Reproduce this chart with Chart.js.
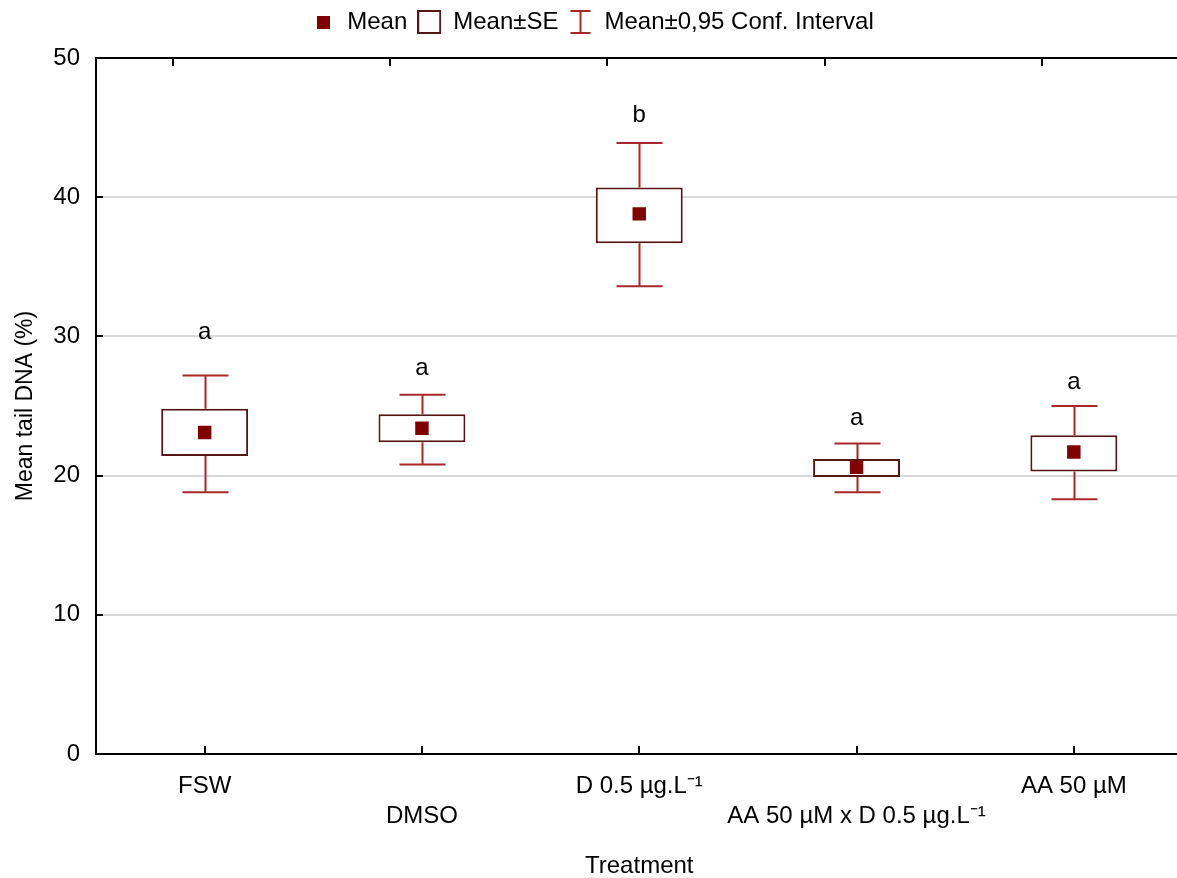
<!DOCTYPE html>
<html>
<head>
<meta charset="utf-8">
<script src="https://cdn.jsdelivr.net/npm/chart.js@4.4.1/dist/chart.umd.min.js"></script>
<style>
  html, body { margin: 0; padding: 0; background: #fff; overflow: hidden; }
  #wrap { width: 1192px; height: 878px; }
</style>
</head>
<body>
<div id="wrap"><canvas id="myChart" width="1192" height="878"></canvas></div>
<script>
// values
const treatments = ['FSW', 'DMSO', 'D 0.5 µg.L⁻¹', 'AA 50 µM x D 0.5 µg.L⁻¹', 'AA 50 µM'];
const means  = [23.1, 23.4, 38.8, 20.6, 21.7];
const seLow  = [21.4, 22.4, 36.7, 19.9, 20.3];
const seHigh = [24.8, 24.4, 40.7, 21.2, 22.9];
const ciLow  = [18.8, 20.8, 33.6, 18.8, 18.3];
const ciHigh = [27.2, 25.8, 43.9, 22.3, 25.0];
const letters = ['a', 'a', 'b', 'a', 'a'];
const letterY = [30.3, 27.7, 45.9, 24.1, 26.7];
const yTicks = [0, 10, 20, 30, 40, 50];

const FONT = "'Liberation Sans', Arial, sans-serif";
const FS = 24;
const boxColor = '#561616';
const ciColor = '#a8282a';
const meanColor = '#800000';

// little legend glyphs
function glyph(w, h, draw) {
  const c = document.createElement('canvas');
  c.width = w; c.height = h;
  draw(c.getContext('2d'));
  return c;
}
const meanGlyph = glyph(13, 13, g => { g.fillStyle = meanColor; g.fillRect(0, 0, 13, 13); });
const seGlyph = glyph(24, 24, g => { g.strokeStyle = boxColor; g.lineWidth = 2; g.strokeRect(1, 1, 22, 22); });
const ciGlyph = glyph(24, 24, g => {
  g.strokeStyle = ciColor; g.lineWidth = 2;
  g.beginPath();
  g.moveTo(2, 1); g.lineTo(22, 1);
  g.moveTo(12, 1); g.lineTo(12, 23);
  g.moveTo(2, 23); g.lineTo(22, 23);
  g.stroke();
});

// push the plot down a bit under the legend
const legendGap = {
  id: 'legendGap',
  beforeInit(chart) {
    const fit = chart.legend.fit;
    chart.legend.fit = function () {
      fit.bind(chart.legend)();
      this.height += 14;
    };
  }
};

const boxPlot = {
  id: 'boxPlot',
  afterDatasetsDraw(chart) {
    const { ctx, scales: { x, y } } = chart;
    const cap = 23;
    ctx.save();
    ctx.strokeStyle = ciColor;
    ctx.lineWidth = 2;
    treatments.forEach((t, i) => {
      const px = Math.round(x.getPixelForValue(i)) + 0.5;
      ctx.beginPath();
      ctx.moveTo(px, y.getPixelForValue(seHigh[i]));
      ctx.lineTo(px, y.getPixelForValue(ciHigh[i]));
      ctx.moveTo(px - cap, y.getPixelForValue(ciHigh[i]));
      ctx.lineTo(px + cap, y.getPixelForValue(ciHigh[i]));
      ctx.moveTo(px, y.getPixelForValue(seLow[i]));
      ctx.lineTo(px, y.getPixelForValue(ciLow[i]));
      ctx.moveTo(px - cap, y.getPixelForValue(ciLow[i]));
      ctx.lineTo(px + cap, y.getPixelForValue(ciLow[i]));
      ctx.stroke();
    });
    // group letters
    ctx.fillStyle = '#000';
    ctx.font = FS + 'px ' + FONT;
    ctx.textAlign = 'center';
    ctx.textBaseline = 'middle';
    letters.forEach((l, i) => {
      ctx.fillText(l, x.getPixelForValue(i), y.getPixelForValue(letterY[i]));
    });
    ctx.restore();
  },
  afterDraw(chart) {
    const { ctx, chartArea: a, scales: { x, y } } = chart;
    ctx.save();
    ctx.strokeStyle = '#000';
    ctx.lineWidth = 2;
    ctx.strokeRect(a.left, a.top, a.right - a.left, a.bottom - a.top);
    ctx.beginPath();
    yTicks.forEach(v => {
      const py = Math.round(y.getPixelForValue(v));
      ctx.moveTo(a.left, py); ctx.lineTo(a.left + 7, py);
    });
    treatments.forEach((t, i) => {
      const px = Math.round(x.getPixelForValue(i));
      ctx.moveTo(px, a.bottom); ctx.lineTo(px, a.bottom - 8);
      ctx.moveTo(px - 32, a.top); ctx.lineTo(px - 32, a.top + 8);
    });
    ctx.stroke();
    ctx.restore();
  }
};

const ctx = document.getElementById('myChart');

new Chart(ctx, {
  type: 'bar',
  data: {
    labels: treatments,
    datasets: [{
      type: 'line',
      label: 'Mean',
      data: means,
      showLine: false,
      pointStyle: 'rect',
      pointRadius: 9.5,
      pointBorderWidth: 0,
      backgroundColor: meanColor,
      borderColor: meanColor,
      order: 0
    }, {
      label: 'Mean±SE',
      data: seLow.map((v, i) => [v, seHigh[i]]),
      backgroundColor: '#fff',
      borderColor: boxColor,
      borderWidth: 2,
      borderSkipped: false,
      barPercentage: 0.4,
      categoryPercentage: 1,
      order: 1
    }]
  },
  options: {
    responsive: false,
    animation: false,
    devicePixelRatio: 1,
    events: [],
    layout: { padding: { top: 0, right: 7, bottom: 0, left: 0 } },
    plugins: {
      tooltip: { enabled: false },
      legend: {
        position: 'top',
        labels: {
          usePointStyle: true,
          color: '#000',
          font: { family: FONT, size: FS },
          padding: 10,
          generateLabels: () => [
            { text: 'Mean', pointStyle: meanGlyph, fontColor: '#000', lineWidth: 0 },
            { text: 'Mean±SE', pointStyle: seGlyph, fontColor: '#000', lineWidth: 0 },
            { text: 'Mean±0,95 Conf. Interval', pointStyle: ciGlyph, fontColor: '#000', lineWidth: 0 }
          ]
        }
      }
    },
    scales: {
      x: {
        grid: { display: false, drawTicks: false },
        border: { color: '#000', width: 2 },
        afterFit: s => { s.height = 124; },
        ticks: {
          autoSkip: false,
          maxRotation: 0,
          padding: 17,
          color: '#000',
          font: { family: FONT, size: FS, lineHeight: 1.25 },
          callback: (v, i) => i % 2 ? ['', treatments[i]] : treatments[i]
        },
        title: {
          display: true,
          text: 'Treatment',
          color: '#000',
          font: { family: FONT, size: FS },
          padding: { top: 0, bottom: -3 }
        }
      },
      y: {
        min: 0,
        max: 50,
        afterFit: s => { s.width = 96; },
        grid: { color: '#d9d9d9', lineWidth: 2, drawTicks: false },
        border: { color: '#000', width: 2 },
        ticks: {
          stepSize: 10,
          padding: 16,
          color: '#000',
          font: { family: FONT, size: FS }
        },
        title: {
          display: true,
          text: 'Mean tail DNA (%)',
          color: '#000',
          font: { family: FONT, size: 23 },
          padding: { top: 12, bottom: 0 }
        }
      }
    }
  },
  plugins: [legendGap, boxPlot]
});
</script>
</body>
</html>
